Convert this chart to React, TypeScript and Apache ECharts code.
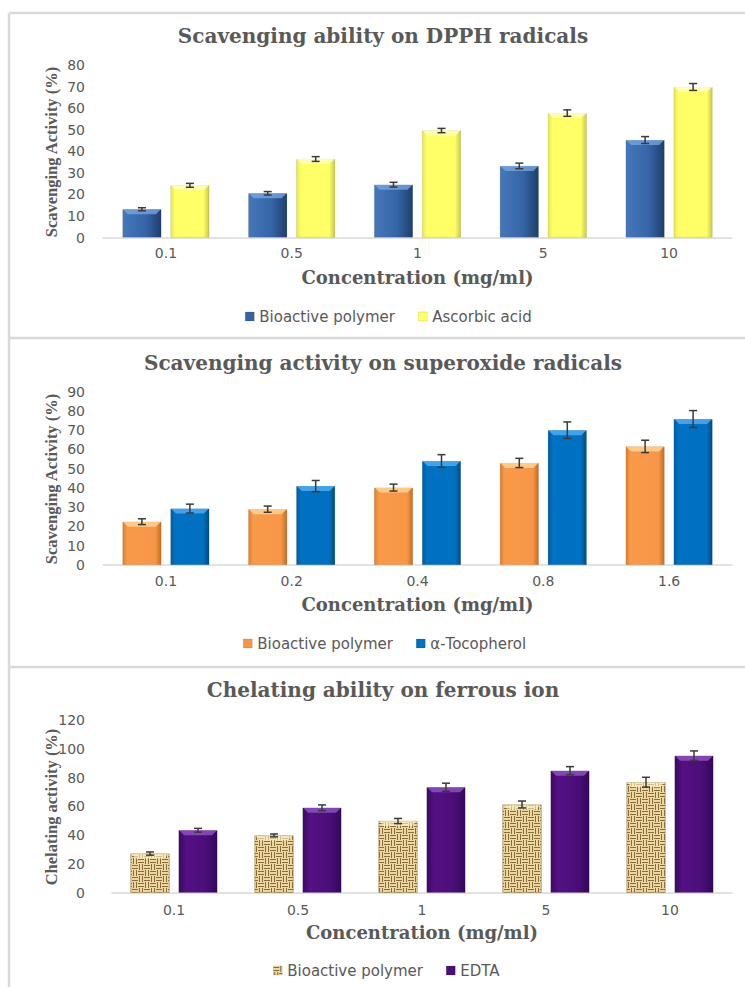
import React, { useEffect, useRef } from 'react';
import * as echarts from 'echarts';

// ---------- data ----------
const dpphCategories = ['0.1', '0.5', '1', '5', '10'];
const dpphPolymer = [13.1, 20.5, 24.5, 33.2, 45.2];
const dpphPolymerErr = [0.7, 0.8, 1.1, 1.3, 1.6];
const dpphAscorbic = [24.2, 36.4, 49.6, 57.7, 69.8];
const dpphAscorbicErr = [0.9, 1.1, 1.0, 1.5, 1.6];

const superCategories = ['0.1', '0.2', '0.4', '0.8', '1.6'];
const superPolymer = [22.5, 29.0, 40.2, 53.0, 61.6];
const superPolymerErr = [1.5, 1.6, 1.8, 2.4, 3.2];
const superToco = [29.3, 41.0, 54.0, 70.0, 75.8];
const superTocoErr = [2.3, 2.9, 3.3, 4.3, 4.4];

const chelCategories = ['0.1', '0.5', '1', '5', '10'];
const chelPolymer = [27.2, 39.8, 49.8, 61.3, 76.8];
const chelPolymerErr = [1.1, 1.0, 1.8, 2.4, 3.4];
const chelEDTA = [43.4, 59.0, 73.3, 84.8, 95.2];
const chelEDTAErr = [1.3, 2.0, 2.8, 2.8, 3.3];

const panelTitles = [
  'Scavenging ability on DPPH radicals',
  'Scavenging activity on superoxide radicals',
  'Chelating ability on ferrous ion',
];
const yTitles = ['Scavenging Activity (%)', 'Scavenging Activity (%)', 'Chelating activity (%)'];
const xTitle = 'Concentration (mg/ml)';
const legendNames = [
  ['Bioactive polymer', 'Ascorbic acid'],
  ['Bioactive polymer', 'α-Tocopherol'],
  ['Bioactive polymer', 'EDTA'],
];

// ---------- helpers ----------
const GRAY = '#595959';
const SANS = '"DejaVu Sans", sans-serif';
const SERIF = '"DejaVu Serif", serif';

function makeWeave(): HTMLCanvasElement {
  const c = document.createElement('canvas');
  c.width = 12;
  c.height = 12;
  const g = c.getContext('2d') as CanvasRenderingContext2D;
  g.fillStyle = '#ead7a2';
  g.fillRect(0, 0, 12, 12);
  g.strokeStyle = '#8a6a36';
  g.lineWidth = 1;
  const h = (x: number, y: number) => {
    for (let k = 0; k < 2; k++) {
      g.beginPath();
      g.moveTo(x, y + 1.5 + k * 3);
      g.lineTo(x + 6, y + 1.5 + k * 3);
      g.stroke();
    }
  };
  const v = (x: number, y: number) => {
    for (let k = 0; k < 2; k++) {
      g.beginPath();
      g.moveTo(x + 1.5 + k * 3, y);
      g.lineTo(x + 1.5 + k * 3, y + 6);
      g.stroke();
    }
  };
  h(0, 0);
  v(6, 0);
  v(0, 6);
  h(6, 6);
  return c;
}

const hGrad = (stops: [number, string][]) =>
  new echarts.graphic.LinearGradient(
    0,
    0,
    1,
    0,
    stops.map(([offset, color]) => ({ offset, color }))
  );

const BAR_W = 39;

const errorRender = (offset: number, bevel: string | null) => (params: any, api: any) => {
  const idx = api.value(0);
  const v = api.value(1);
  const e = api.value(2);
  const base = api.coord([idx, v]);
  const top = api.coord([idx, v + e]);
  const bot = api.coord([idx, v - e]);
  const x = base[0] + offset;
  const style = { stroke: '#3a3a3a', lineWidth: 1.5 };
  const children: any[] = [];
  if (bevel) {
    const x0 = x - BAR_W / 2 + 0.5;
    const x1 = x + BAR_W / 2 - 0.5;
    const y0 = base[1];
    children.push({
      type: 'polygon',
      shape: {
        points: [
          [x0, y0],
          [x1, y0],
          [x1 - 5, y0 + 5],
          [x0 + 5, y0 + 5],
        ],
      },
      style: { fill: bevel },
    });
  }
  children.push(
    { type: 'line', shape: { x1: x, y1: top[1], x2: x, y2: bot[1] }, style },
    { type: 'line', shape: { x1: x - 4, y1: top[1], x2: x + 4, y2: top[1] }, style },
    { type: 'line', shape: { x1: x - 4, y1: bot[1], x2: x + 4, y2: bot[1] }, style }
  );
  return { type: 'group', children };
};

export default function App() {
  const ref = useRef<HTMLDivElement>(null);

  useEffect(() => {
    if (!ref.current) return;
    const chart = echarts.init(ref.current, undefined, { renderer: 'svg' });

    const weave = makeWeave();
    const weavePattern: any = { image: weave, repeat: 'repeat', imageWidth: 12, imageHeight: 12 };

    const grids = [
      { left: 103, top: 65, width: 629, height: 172.5 },
      { left: 103, top: 391.7, width: 629, height: 173.3 },
      { left: 112, top: 720, width: 620, height: 172.7 },
    ];
    const cats = [dpphCategories, superCategories, chelCategories];
    const yMax = [80, 90, 120];
    const yInt = [10, 10, 20];
    const yLabelMargin = [18, 18, 27];
    const xLabelMargin = [8, 9, 10];

    const colors = [
      [
        hGrad([[0, '#4677b8'], [0.6, '#3565a6'], [1, '#1e3f6c']]),
        hGrad([[0, '#e6e655'], [0.12, '#ffff66'], [0.85, '#ffff66'], [1, '#c9c94a']]),
      ],
      [
        hGrad([[0, '#dc7f30'], [0.12, '#f89a4a'], [0.85, '#f79646'], [1, '#c56d22']]),
        hGrad([[0, '#005c9f'], [0.12, '#0072c3'], [0.85, '#0070c0'], [1, '#004c85']]),
      ],
      [
        weavePattern,
        hGrad([[0, '#3a0a63'], [0.2, '#531183'], [0.7, '#4b0e79'], [1, '#33085a']]),
      ],
    ];
    const legendColors = [
      ['#3565a6', '#ffff66'],
      ['#f79646', '#0070c0'],
      [weavePattern, '#4b0e79'],
    ];
    const bevels = [
      ['rgba(120,170,230,0.75)', 'rgba(255,255,190,0.8)'],
      ['rgba(255,215,150,0.8)', 'rgba(80,175,245,0.8)'],
      ['rgba(255,245,205,0.6)', 'rgba(150,90,200,0.75)'],
    ];
    const values = [
      [dpphPolymer, dpphAscorbic],
      [superPolymer, superToco],
      [chelPolymer, chelEDTA],
    ];
    const errs = [
      [dpphPolymerErr, dpphAscorbicErr],
      [superPolymerErr, superTocoErr],
      [chelPolymerErr, chelEDTAErr],
    ];

    const series: any[] = [];
    for (let p = 0; p < 3; p++) {
      for (let s = 0; s < 2; s++) {
        series.push({
          type: 'bar',
          name: legendNames[p][s],
          xAxisIndex: p,
          yAxisIndex: p,
          barWidth: BAR_W,
          barGap: '23%',
          itemStyle: {
            color: colors[p][s],
            borderColor: p === 2 && s === 0 ? '#9a7d45' : 'rgba(0,0,0,0.15)',
            borderWidth: 0.6,
          },
          data: values[p][s],
        });
      }
      for (let s = 0; s < 2; s++) {
        series.push({
          type: 'custom',
          name: 'err' + p + s,
          xAxisIndex: p,
          yAxisIndex: p,
          z: 5,
          renderItem: errorRender(s === 0 ? -24 : 24, bevels[p][s]),
          encode: { x: 0, y: 1 },
          data: values[p][s].map((v, i) => [i, v, errs[p][s][i]]),
        });
      }
    }

    const titleY = [36, 363, 690];
    const xTitleY = [277, 604, 932];
    const xTitleX = [417.5, 417.5, 422];
    const yTitleY = [152, 479, 807];
    const borderY = [13, 338, 667];
    const legendLeft = [245, 243, 273];
    const legendTop = [309, 636, 963];

    const graphic: any[] = [];
    for (let p = 0; p < 3; p++) {
      graphic.push({
        type: 'line',
        shape: { x1: 9, y1: borderY[p], x2: 745, y2: borderY[p] },
        style: { stroke: '#d9d9d9', lineWidth: 2.5 },
      });
      graphic.push({
        type: 'text',
        x: 383,
        y: titleY[p],
        style: {
          text: panelTitles[p],
          fill: GRAY,
          fontFamily: SERIF,
          fontWeight: 'bold',
          fontSize: 20,
          align: 'center',
          verticalAlign: 'middle',
        },
      });
      graphic.push({
        type: 'text',
        x: xTitleX[p],
        y: xTitleY[p],
        style: {
          text: xTitle,
          fill: GRAY,
          fontFamily: SERIF,
          fontWeight: 'bold',
          fontSize: 18,
          align: 'center',
          verticalAlign: 'middle',
        },
      });
      graphic.push({
        type: 'text',
        x: 51,
        y: yTitleY[p],
        rotation: Math.PI / 2,
        style: {
          text: yTitles[p],
          fill: GRAY,
          fontFamily: '"Liberation Serif", serif',
          fontWeight: 'bold',
          fontSize: 16.5,
          align: 'center',
          verticalAlign: 'middle',
        },
      });
    }
    graphic.push({
      type: 'line',
      shape: { x1: 9, y1: 13, x2: 9, y2: 987 },
      style: { stroke: '#d9d9d9', lineWidth: 2.5 },
    });

    chart.setOption({
      animation: false,
      backgroundColor: '#ffffff',
      grid: grids,
      xAxis: grids.map((_, p) => ({
        type: 'category',
        gridIndex: p,
        data: cats[p],
        axisLine: { lineStyle: { color: '#d9d9d9', width: 1.5 } },
        axisTick: { show: false },
        axisLabel: { color: GRAY, fontFamily: SANS, fontSize: 14, margin: xLabelMargin[p] },
      })),
      yAxis: grids.map((_, p) => ({
        type: 'value',
        gridIndex: p,
        min: 0,
        max: yMax[p],
        interval: yInt[p],
        axisLine: { show: false },
        axisTick: { show: false },
        splitLine: { show: false },
        axisLabel: { color: GRAY, fontFamily: SANS, fontSize: 14, margin: yLabelMargin[p] },
      })),
      legend: legendNames.map((names, p) => ({
        data: names.map((name, s) => ({
          name,
          itemStyle: { color: legendColors[p][s], borderColor: 'rgba(0,0,0,0.2)', borderWidth: 0.5 },
        })),
        left: legendLeft[p],
        top: legendTop[p],
        padding: 0,
        orient: 'horizontal',
        icon: 'rect',
        itemWidth: 9,
        itemHeight: 9,
        itemGap: 23,
        selectedMode: false,
        textStyle: { color: GRAY, fontFamily: SANS, fontSize: 15 },
      })),
      graphic,
      series,
    });

    return () => chart.dispose();
  }, []);

  return (
    <div
      ref={ref}
      style={{ position: 'absolute', left: 0, top: 0, width: 745, height: 987, background: '#fff' }}
    />
  );
}
